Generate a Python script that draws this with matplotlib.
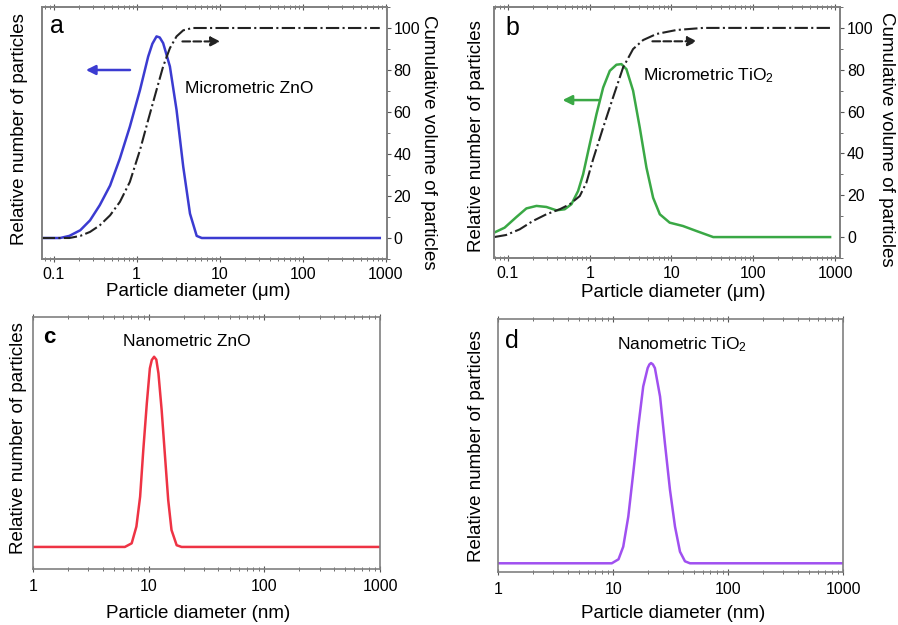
import matplotlib
matplotlib.use("Agg")
import matplotlib.pyplot as plt

plt.rcParams['font.family'] = ['Liberation Sans', 'DejaVu Sans']
plt.rcParams['mathtext.fontset'] = 'custom'
plt.rcParams['mathtext.rm'] = 'Liberation Sans'
plt.rcParams['mathtext.it'] = 'Liberation Sans'

# panel a - micrometric ZnO (um)
zno_um_x = [0.072, 0.12, 0.155, 0.21, 0.275, 0.36, 0.48, 0.63, 0.83, 1.1, 1.38, 1.55, 1.74,
            1.9, 2.09, 2.52, 3.03, 3.65, 4.4, 5.3, 6.1, 850]
zno_um_n = [0, 0, 1, 3.7, 8.4, 15.6, 25, 37.9, 53, 70.5, 86.4, 92.5, 96,
            95.5, 92.8, 81.7, 61, 33.9, 11.6, 1, 0, 0]
zno_cum_x = [0.072, 0.155, 0.21, 0.275, 0.36, 0.48, 0.63, 0.83, 1.1, 1.38, 1.74, 2.09,
             2.52, 3.03, 3.65, 4.7, 850]
zno_cum_v = [0, 0, 1, 2.9, 6, 10.8, 17.2, 26.7, 41.9, 56.2, 70.5, 81.7,
             90.4, 96, 98.9, 100, 100]

# panel b - micrometric TiO2 (um)
tio_um_x = [0.0675, 0.091, 0.127, 0.168, 0.223, 0.295, 0.391, 0.494, 0.597, 0.72, 0.83, 1.0,
            1.21, 1.46, 1.76, 2.12, 2.44, 2.81, 3.39, 4.09, 4.94, 5.96, 7.2, 9.5,
            13.8, 20.2, 32.4, 870]
tio_um_n = [2.1, 4.5, 9.6, 13.7, 14.9, 14.4, 12.8, 13.3, 15.7, 22, 30, 44.4,
            58.8, 71.5, 79.5, 82.4, 82.7, 80.3, 70, 52.4, 33.2, 18.8, 10.9, 6.9,
            5.3, 2.9, 0, 0]
tio_cum_x = [0.0675, 0.095, 0.139, 0.202, 0.295, 0.43, 0.57, 0.755, 0.91, 1.1, 1.46, 1.93,
             2.56, 3.39, 4.5, 6.55, 11.5, 24.4, 870]
tio_cum_v = [0, 1, 3.7, 7.7, 10.9, 13.3, 15.7, 19.6, 26, 37.2, 52.4, 66.8,
             81.1, 89.9, 94.2, 97.1, 99, 100, 100]

# panel c - nanometric ZnO (nm)
zno_nm_x = [1, 6.2, 7.1, 7.8, 8.4, 8.95, 9.6, 10.2, 10.6, 11.1, 11.6, 12.1, 12.9, 13.8,
            14.7, 15.7, 17.4, 19.2, 1000]
zno_nm_n = [0, 0, 1.9, 10.7, 26.4, 51, 75.5, 93.9, 98.3, 100, 98.5, 91.3, 72, 47.5,
            24.7, 8.9, 0.9, 0, 0]

# panel d - nanometric TiO2 (nm)
tio_nm_x = [1, 9.7, 11.1, 12.2, 13.5, 14.9, 16.5, 18.2, 19.9, 20.6, 21.3, 22.1, 23, 25.5,
            28.1, 31.1, 34.4, 38, 42, 46.4, 1000]
tio_nm_n = [0, 0, 2, 8.3, 23.3, 45, 68.3, 88.3, 97.5, 99.3, 100, 99.3, 97.5, 83.3,
            60, 36.7, 18.3, 5.8, 1, 0, 0]

micro_ticks = [0.1, 1, 10, 100, 1000]
micro_labels = ['0.1', '1', '10', '100', '1000']
nano_ticks = [1, 10, 100, 1000]
nano_labels = ['1', '10', '100', '1000']
cum_ticks = [0, 20, 40, 60, 80, 100]

SPINE = '#808080'
W, H = 898, 625


def box(left, top, right, bottom):
    return [left / W, 1 - bottom / H, (right - left) / W, (bottom - top) / H]


def style(ax, ticks, labels, xlim, ylim, unit, xlab, ylab, pad=4):
    ax.set_xscale('log')
    ax.set_xlim(xlim)
    ax.set_ylim(ylim)
    ax.set_xticks(ticks)
    ax.set_xticklabels(labels)
    ax.set_yticks([])
    for s in ax.spines.values():
        s.set_color(SPINE)
        s.set_linewidth(1.2)
    ax.tick_params(axis='x', which='both', direction='inout', top=True, color='#555555',
                   labelsize=11.5, pad=pad)
    ax.tick_params(axis='x', which='major', length=4)
    ax.tick_params(axis='x', which='minor', length=2.5)
    ax.set_xlabel('Particle diameter (%s)' % unit, fontsize=13.5, va='center')
    ax.xaxis.set_label_coords(*xlab)
    ax.set_ylabel('Relative number of particles', fontsize=13.5, va='center')
    ax.yaxis.set_label_coords(*ylab)


def cumulative(ax, x, v, lab):
    ax2 = ax.twinx()
    ax2.set_ylim(-10, 110)
    ax2.plot(x, v, color='#222222', lw=1.5, ls='-.')
    ax2.set_yticks(cum_ticks)
    ax2.set_yticks([-10, 10, 30, 50, 70, 90, 110], minor=True)
    ax2.tick_params(axis='y', which='both', direction='out', color='#555555',
                    labelsize=11.5, pad=2)
    ax2.tick_params(axis='y', which='major', length=3)
    ax2.tick_params(axis='y', which='minor', length=2)
    for s in ax2.spines.values():
        s.set_color(SPINE)
        s.set_linewidth(1.2)
    ax2.set_ylabel('Cumulative volume of particles', fontsize=13.5, rotation=270, va='center')
    ax2.yaxis.set_label_coords(*lab)
    return ax2


fig = plt.figure(figsize=(W / 100, H / 100), dpi=100)

# ---- a
ax = fig.add_axes(box(41.7, 7, 386.7, 259))
style(ax, micro_ticks, micro_labels, (0.072, 1030), (-10, 110), 'μm',
      (0.453, -0.127), (-0.063, 0.516))
ax.plot(zno_um_x, zno_um_n, color='#3b3bd1', lw=1.8)
cumulative(ax, zno_cum_x, zno_cum_v, (1.12, 0.464))
ax.annotate('', xy=(0.227, 80), xytext=(0.9, 80),
            arrowprops=dict(arrowstyle='-|>', color='#3b3bd1', lw=1.8, mutation_scale=14))
ax.annotate('', xy=(11, 93.6), xytext=(3.3, 93.6),
            arrowprops=dict(arrowstyle='-|>', color='#222222', lw=1.5, ls='--', mutation_scale=14))
ax.text(3.8, 71, 'Micrometric ZnO', fontsize=12.5, va='center', ha='left')
fig.text(50 / W, 1 - 33 / H, 'a', fontsize=18, va='baseline')

# ---- b
ax = fig.add_axes(box(494, 7, 840, 258))
style(ax, micro_ticks, micro_labels, (0.0675, 1150), (-10, 110), 'μm',
      (0.517, -0.139), (-0.05, 0.486))
ax.plot(tio_um_x, tio_um_n, color='#3aa845', lw=1.8)
cumulative(ax, tio_cum_x, tio_cum_v, (1.135, 0.474))
ax.annotate('', xy=(0.43, 65.5), xytext=(1.39, 65.5),
            arrowprops=dict(arrowstyle='-|>', color='#3aa845', lw=1.8, mutation_scale=14))
ax.annotate('', xy=(22.2, 93.6), xytext=(5.4, 93.6),
            arrowprops=dict(arrowstyle='-|>', color='#222222', lw=1.5, ls='--', mutation_scale=14))
ax.text(4.5, 77, 'Micrometric TiO$_2$', fontsize=12.5, va='center', ha='left')
fig.text(505 / W, 1 - 35 / H, 'b', fontsize=18, va='baseline')

# ---- c
ax = fig.add_axes(box(33.3, 317, 380, 569))
style(ax, nano_ticks, nano_labels, (1, 1000), (-11.6, 120.9), 'nm',
      (0.475, -0.175), (-0.043, 0.52), pad=5.5)
ax.plot(zno_nm_x, zno_nm_n, color='#ee3344', lw=1.8)
ax.text(21.2, 108, 'Nanometric ZnO', fontsize=12.5, va='center', ha='center')
fig.text(43 / W, 1 - 343 / H, 'c', fontsize=16, fontweight='bold', va='baseline')

# ---- d
ax = fig.add_axes(box(498.3, 319, 843.3, 571.7))
style(ax, nano_ticks, nano_labels, (1, 1000), (-4.2, 122), 'nm',
      (0.506, -0.165), (-0.063, 0.497), pad=5.5)
ax.plot(tio_nm_x, tio_nm_n, color='#a050f0', lw=1.8)
ax.text(10.7, 109, 'Nanometric TiO$_2$', fontsize=12.5, va='center', ha='left')
fig.text(505 / W, 1 - 348 / H, 'd', fontsize=18, va='baseline')

fig.savefig('out.png', dpi=100)
